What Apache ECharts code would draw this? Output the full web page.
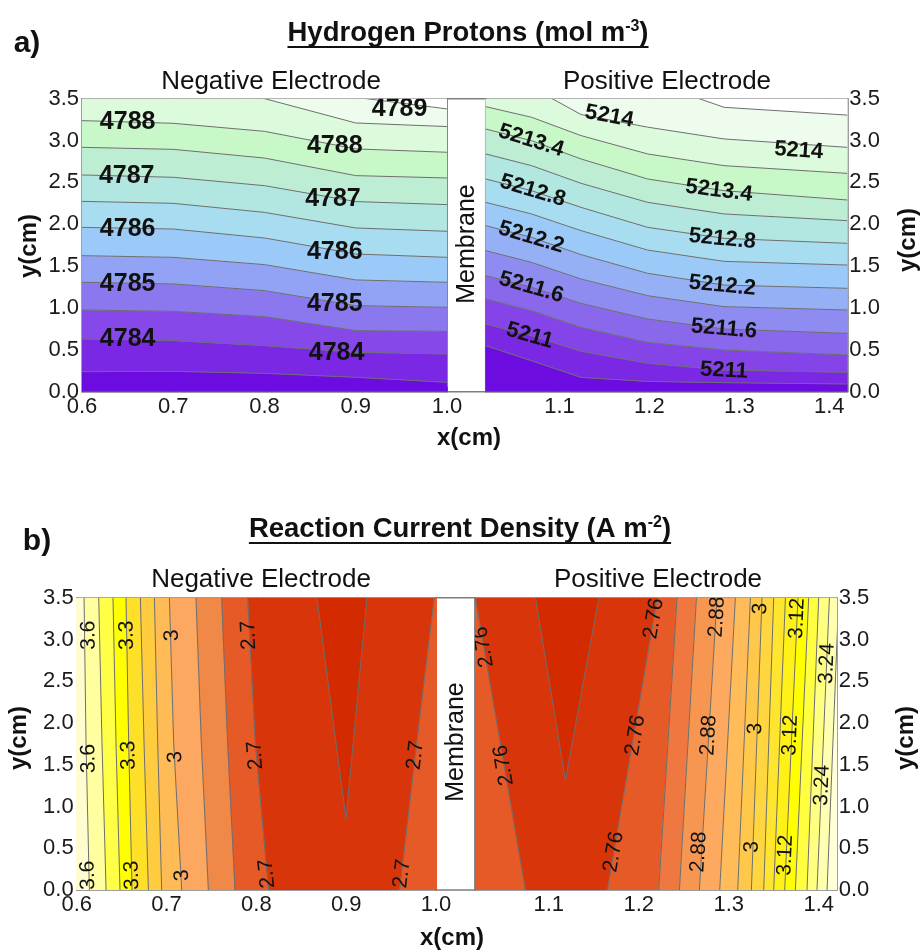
<!DOCTYPE html>
<html>
<head>
<meta charset="utf-8">
<script src="https://cdn.jsdelivr.net/npm/echarts@6.0.0/dist/echarts.min.js"></script>
<style>html,body{margin:0;padding:0;background:#fff;}#chart{width:921px;height:951px;}</style>
</head>
<body>
<div id="chart"></div>
<script>
// ================= DATA =================
// tick values
const yTicks = [0, 0.5, 1.0, 1.5, 2.0, 2.5, 3.0, 3.5];
const xTicksNeg = [0.6, 0.7, 0.8, 0.9, 1.0];
const xTicksPos = [1.1, 1.2, 1.3, 1.4];
const yRange = [0, 3.5];
const xRangeNeg = [0.6, 1.0];
const xRangePos = [1.018, 1.42];

// (a) Hydrogen protons, negative electrode: contour y at sample x
const negA_x = [0.6, 0.7, 0.8, 0.9, 1.0];
const negA_levels = [4783.5, 4784, 4784.5, 4785, 4785.5, 4786, 4786.5, 4787, 4787.5, 4788, 4788.5, 4789];
const negA_y = [
  [0.239, 0.243, 0.219, 0.172, 0.112],
  [0.629, 0.610, 0.550, 0.470, 0.450],
  [0.976, 0.960, 0.897, 0.730, 0.721],
  [1.307, 1.287, 1.207, 1.028, 1.008],
  [1.625, 1.605, 1.518, 1.335, 1.307],
  [1.963, 1.943, 1.836, 1.645, 1.605],
  [2.274, 2.250, 2.142, 1.956, 1.916],
  [2.589, 2.561, 2.461, 2.271, 2.235],
  [2.919, 2.895, 2.791, 2.581, 2.553],
  [3.238, 3.206, 3.110, 2.900, 2.860],
  [3.577, 3.557, 3.501, 3.210, 3.167],
  [3.876, 3.855, 3.796, 3.517, 3.378]
];
const negA_labels = [
  [0.650, 3.218, '4788'], [0.877, 2.935, '4788'],
  [0.649, 2.581, '4787'], [0.875, 2.300, '4787'],
  [0.650, 1.944, '4786'], [0.877, 1.665, '4786'],
  [0.650, 1.286, '4785'], [0.877, 1.048, '4785'],
  [0.650, 0.629, '4784'], [0.879, 0.465, '4784'],
  [0.948, 3.377, '4789']
];

// (a) Hydrogen protons, positive electrode
const posA_x = [1.018, 1.069, 1.124, 1.198, 1.283, 1.42];
const posA_levels = [5210.7, 5211, 5211.3, 5211.6, 5211.9, 5212.2, 5212.5, 5212.8, 5213.1, 5213.4, 5213.7, 5214, 5214.3];
const posA_y = [
  [0.550, 0.370, 0.171, 0.123, 0.108, 0.092],
  [0.808, 0.669, 0.482, 0.339, 0.259, 0.231],
  [1.107, 0.968, 0.768, 0.589, 0.498, 0.438],
  [1.386, 1.247, 1.055, 0.868, 0.749, 0.697],
  [1.685, 1.545, 1.346, 1.147, 1.016, 0.976],
  [1.983, 1.844, 1.637, 1.414, 1.274, 1.235],
  [2.262, 2.123, 1.924, 1.692, 1.557, 1.513],
  [2.541, 2.401, 2.202, 1.963, 1.832, 1.772],
  [2.840, 2.700, 2.489, 2.262, 2.123, 2.043],
  [3.138, 2.999, 2.780, 2.541, 2.401, 2.290],
  [3.405, 3.278, 3.059, 2.840, 2.700, 2.608],
  [4.150, 3.636, 3.311, 3.160, 3.019, 2.919],
  [4.550, 4.350, 4.030, 3.716, 3.397, 3.304]
];
const posA_labels = [
  [1.0686, 2.999, '5213.4'], [1.0704, 2.401, '5212.8'], [1.0686, 1.844, '5212.2'],
  [1.0686, 1.247, '5211.6'], [1.0668, 0.669, '5211'], [1.1554, 3.29, '5214'],
  [1.366, 2.879, '5214'], [1.2773, 2.401, '5213.4'], [1.281, 1.824, '5212.8'],
  [1.281, 1.266, '5212.2'], [1.2829, 0.749, '5211.6'], [1.2829, 0.251, '5211']
];

// (b) Reaction current density, negative electrode: contour x at sample y
const negB_y = [3.5, 1.75, 0];
const negB_levels = [3.6, 3.5, 3.4, 3.3, 3.2, 3.1, 3.0, 2.9, 2.8, 2.7, 2.7];
const negB_x = [
  [0.6082, 0.6104, 0.6141],
  [0.6245, 0.6282, 0.6327],
  [0.6404, 0.6438, 0.6482],
  [0.6549, 0.6579, 0.6616],
  [0.6709, 0.6750, 0.6798],
  [0.6865, 0.6902, 0.6946],
  [0.7032, 0.7080, 0.7169],
  [0.7328, 0.7388, 0.7466],
  [0.7614, 0.7681, 0.7763],
  [0.7904, 0.7989, 0.8137],
  [0.9981, 0.9785, 0.9596]
];
const negB_coreLevel = 2.6;
const negB_core_x = [0.8675, 0.8998, 0.9232];
const negB_core_y = [3.5, 0.854, 3.5];
const negB_labels = [
  [0.6134, 3.050, '3.6'], [0.6134, 1.573, '3.6'], [0.6126, 0.176, '3.6'],
  [0.6560, 3.050, '3.3'], [0.6579, 1.613, '3.3'], [0.6616, 0.176, '3.3'],
  [0.7061, 3.050, '3'], [0.7098, 1.593, '3'], [0.7173, 0.176, '3'],
  [0.7916, 3.050, '2.7'], [0.7989, 1.613, '2.7'], [0.8119, 0.196, '2.7'],
  [0.9772, 1.613, '2.7'], [0.9622, 0.196, '2.7']
];

// (b) Reaction current density, positive electrode
const posB_y = [3.5, 0];
const posB_levels = [2.76, 2.76, 2.80, 2.84, 2.88, 2.92, 2.96, 3.00, 3.04, 3.08, 3.12, 3.16, 3.20, 3.24, 3.28];
const posB_x = [
  [1.0185, 1.0741],
  [1.2207, 1.1652],
  [1.2426, 1.2222],
  [1.2641, 1.2452],
  [1.2870, 1.2674],
  [1.3074, 1.2900],
  [1.3241, 1.3100],
  [1.3370, 1.3252],
  [1.3500, 1.3389],
  [1.3630, 1.3500],
  [1.3770, 1.3622],
  [1.3889, 1.3741],
  [1.4000, 1.3870],
  [1.4119, 1.3981],
  [1.4222, 1.4093]
];
const posB_coreLevel = 2.72;
const posB_core_x = [1.0852, 1.1185, 1.1556];
const posB_core_y = [3.5, 1.317, 3.5];
const posB_labels = [
  [1.0278, 2.910, '2.76'], [1.050, 1.493, '2.76'], [1.2167, 3.250, '2.76'],
  [1.1963, 1.852, '2.76'], [1.1722, 0.455, '2.76'],
  [1.287, 3.269, '2.88'], [1.2778, 1.852, '2.88'], [1.2667, 0.455, '2.88'],
  [1.3352, 3.369, '3'], [1.3296, 1.932, '3'], [1.3259, 0.515, '3'],
  [1.3759, 3.250, '3.12'], [1.3685, 1.852, '3.12'], [1.363, 0.415, '3.12'],
  [1.4093, 2.711, '3.24'], [1.4037, 1.253, '3.24']
];

const titleA = ['Hydrogen Protons (mol m', '-3', ')'];
const titleB = ['Reaction Current Density (A m', '-2', ')'];

// ================= STYLE / LAYOUT =================
const FF = '"Liberation Sans", Arial, Helvetica, sans-serif';
const LINE_COLOR = '#6e6e6e';
const FRAME = '#7f7f7f';
const grids = [
  {left: 82, top: 98.7, width: 365, height: 293},
  {left: 485.7, top: 98.7, width: 361.6, height: 293},
  {left: 76.7, top: 597.7, width: 359.3, height: 292.3},
  {left: 475, top: 597.7, width: 361.7, height: 292.3}
];
const colorsNegA = ['#6c0ce0','#7a28e4','#8648e8','#8c78ee','#92a2f5','#9ccaf8','#a8dcf0','#b2e6e0','#bdeed4','#c8f8c8','#dcfadc','#eefcee','#ffffff'];
const colorsPosA = ['#6c0ce0','#7a28e4','#8444e8','#8a68ec','#8e8cf0','#96b0f6','#9ccaf8','#a8dcf0','#b2e6e0','#bdeed4','#c8f8c8','#dcfadc','#eefcee','#ffffff'];
const colorsNegB = ['#fffdd0','#ffffa0','#ffff48','#ffff00','#ffe028','#ffcc40','#ffbb55','#fca860','#f08848','#e65a28','#d8360a','#e65a28'];
const colorsPosB = ['#e65a28','#d8360a','#e65a28','#ef7840','#f69650','#fdaa60','#ffbc58','#ffc84a','#ffd640','#ffe430','#fff018','#ffff00','#ffff40','#ffff80','#ffffb0','#ffffd8'];
const CORE_COLOR = '#d42a00';

function interp(s, v, t) {
  const n = s.length;
  let i = -1;
  for (let k = 0; k < n - 1; k++) {
    const lo = Math.min(s[k], s[k + 1]), hi = Math.max(s[k], s[k + 1]);
    if (t >= lo && t <= hi) { i = k; break; }
  }
  if (i < 0) i = Math.abs(t - s[0]) < Math.abs(t - s[n - 1]) ? 0 : n - 2;
  const f = (t - s[i]) / (s[i + 1] - s[i]);
  return v[i] + f * (v[i + 1] - v[i]);
}

function buildRender(cfg) {
  return function (params, api) {
    const h = cfg.orient === 'h';
    const s = cfg.s;
    const toPts = arr => s.map((t, i) => h ? [t, arr[i]] : [arr[i], t]);
    const lines = cfg.lines.map(toPts);
    const lowB = toPts(s.map(() => h ? yRange[0] - 1 : cfg.xr[0] - 1));
    const highB = toPts(s.map(() => h ? yRange[1] + 1 : cfg.xr[1] + 1));
    const bounds = [lowB].concat(lines, [highB]);
    const C = p => api.coord(p);
    const children = [];
    for (let j = 0; j < bounds.length - 1; j++) {
      const poly = bounds[j].concat(bounds[j + 1].slice().reverse()).map(C);
      children.push({type: 'polygon', shape: {points: poly},
        style: {fill: cfg.colors[j], stroke: cfg.colors[j], lineWidth: 0.6}});
    }
    let corePts = null;
    if (cfg.coreX) {
      corePts = cfg.coreX.map((x, i) => [x, cfg.coreY[i]]).map(C);
      children.push({type: 'polygon', shape: {points: corePts}, style: {fill: CORE_COLOR}});
    }
    lines.forEach(l => children.push({type: 'polyline', shape: {points: l.map(C)},
      style: {stroke: LINE_COLOR, lineWidth: 1, fill: null}}));
    if (corePts) children.push({type: 'polyline', shape: {points: corePts},
      style: {stroke: LINE_COLOR, lineWidth: 1, fill: null}});
    cfg.labels.forEach(lb => {
      const lx = lb[0], ly = lb[1], txt = lb[2];
      const p = C([lx, ly]);
      let rot = 0;
      if (cfg.rotate) {
        const lv = parseFloat(txt);
        let best = -1, bd = Infinity;
        cfg.levels.forEach((L, k) => {
          if (Math.abs(L - lv) < 1e-6) {
            const d = h ? Math.abs(interp(s, cfg.lines[k], lx) - ly) : Math.abs(interp(s, cfg.lines[k], ly) - lx);
            if (d < bd) { bd = d; best = k; }
          }
        });
        if (best >= 0) {
          let a, b;
          if (h) {
            const d = 0.02;
            a = C([lx - d, interp(s, cfg.lines[best], lx - d)]);
            b = C([lx + d, interp(s, cfg.lines[best], lx + d)]);
          } else {
            const d = 0.2;
            a = C([interp(s, cfg.lines[best], ly - d), ly - d]);
            b = C([interp(s, cfg.lines[best], ly + d), ly + d]);
          }
          rot = Math.atan2(-(b[1] - a[1]), b[0] - a[0]);
        }
      }
      children.push({type: 'text', x: p[0], y: p[1], rotation: rot,
        style: {text: txt, font: cfg.font, fill: '#111', align: 'center', verticalAlign: 'middle',
                textAlign: 'center', textVerticalAlign: 'middle'}});
    });
    return {type: 'group', children: children};
  };
}

const cfgs = [
  {orient: 'h', s: negA_x, lines: negA_y, levels: negA_levels, colors: colorsNegA, labels: negA_labels,
   font: 'bold 25px ' + FF, rotate: false, xr: xRangeNeg},
  {orient: 'h', s: posA_x, lines: posA_y, levels: posA_levels, colors: colorsPosA, labels: posA_labels,
   font: 'bold 22px ' + FF, rotate: true, xr: xRangePos},
  {orient: 'v', s: negB_y, lines: negB_x, levels: negB_levels, colors: colorsNegB, labels: negB_labels,
   font: '21px ' + FF, rotate: true, xr: xRangeNeg, coreX: negB_core_x, coreY: negB_core_y},
  {orient: 'v', s: posB_y, lines: posB_x, levels: posB_levels, colors: colorsPosB, labels: posB_labels,
   font: '21px ' + FF, rotate: true, xr: xRangePos, coreX: posB_core_x, coreY: posB_core_y}
];

const interior = (arr, r) => arr.filter(v => v > r[0] + 1e-9 && v < r[1] - 1e-9);
const fmt = v => Number(v).toFixed(1);
const axisLine = {show: true, onZero: false, lineStyle: {color: FRAME, width: 1.5}};
const tickStyle = {color: '#555', width: 1};
const labelStyle = {color: '#1a1a1a', fontSize: 22, fontFamily: FF, formatter: fmt};

const xAxes = [], yAxes = [], series = [];
grids.forEach((g, i) => {
  const isNeg = (i % 2 === 0);
  const xr = isNeg ? xRangeNeg : xRangePos;
  const xt = isNeg ? xTicksNeg : xTicksPos;
  xAxes.push({gridIndex: i, type: 'value', min: xr[0], max: xr[1], position: 'bottom',
    axisLine: axisLine, splitLine: {show: false},
    axisTick: {show: true, inside: true, length: 5, customValues: xt, lineStyle: tickStyle},
    axisLabel: Object.assign({show: true, customValues: xt, margin: 4}, labelStyle)});
  xAxes.push({gridIndex: i, type: 'value', min: xr[0], max: xr[1], position: 'top',
    axisLine: axisLine, splitLine: {show: false},
    axisTick: {show: true, inside: true, length: 5, customValues: interior(xt, xr), lineStyle: tickStyle},
    axisLabel: {show: false}});
  yAxes.push({gridIndex: i, type: 'value', min: yRange[0], max: yRange[1], position: 'left',
    axisLine: axisLine, splitLine: {show: false},
    axisTick: {show: true, inside: true, length: 5, customValues: interior(yTicks, yRange), lineStyle: tickStyle},
    axisLabel: Object.assign({show: isNeg, customValues: yTicks, margin: 3}, labelStyle)});
  yAxes.push({gridIndex: i, type: 'value', min: yRange[0], max: yRange[1], position: 'right',
    axisLine: axisLine, splitLine: {show: false},
    axisTick: {show: true, inside: true, length: 5, customValues: interior(yTicks, yRange), lineStyle: tickStyle},
    axisLabel: Object.assign({show: !isNeg, customValues: yTicks, margin: 2}, labelStyle)});
  series.push({type: 'custom', xAxisIndex: 2 * i, yAxisIndex: 2 * i, clip: true, silent: true,
    data: [[xr[0], yRange[0]]], renderItem: buildRender(cfgs[i]), animation: false});
});

// ---------- graphic decorations ----------
function textWidth(str, font) {
  const c = document.createElement('canvas').getContext('2d');
  c.font = font; return c.measureText(str).width;
}
const TSIZE = 27.5, SSIZE = 16;
const TITLE_FONT = 'bold ' + TSIZE + 'px ' + FF, SUP_FONT = 'bold ' + SSIZE + 'px ' + FF;
function titleEls(parts, cx, cy, uy) {
  const w = textWidth(parts[0], TITLE_FONT) + textWidth(parts[1], SUP_FONT) + textWidth(parts[2], TITLE_FONT);
  return [
    {type: 'text', x: cx, y: cy, style: {
      text: '{t|' + parts[0] + '}{s|' + parts[1] + '}{t|' + parts[2] + '}',
      align: 'center', verticalAlign: 'middle', textAlign: 'center', textVerticalAlign: 'middle',
      rich: {t: {fontSize: TSIZE, fontWeight: 'bold', fontFamily: FF, fill: '#111'},
             s: {fontSize: SSIZE, fontWeight: 'bold', fontFamily: FF, fill: '#111', verticalAlign: 'top'}}}},
    {type: 'line', shape: {x1: cx - w / 2, y1: uy, x2: cx + w / 2, y2: uy}, style: {stroke: '#111', lineWidth: 2}}
  ];
}
function txt(t, x, y, font, rot) {
  return {type: 'text', x: x, y: y, rotation: rot || 0,
    style: {text: t, font: font, fill: '#111', align: 'center', verticalAlign: 'middle',
            textAlign: 'center', textVerticalAlign: 'middle'}};
}
function membrane(gl, gr, cy) {
  const x0 = gl.left + gl.width, x1 = gr.left;
  return [
    {type: 'rect', shape: {x: x0, y: gl.top, width: x1 - x0, height: gl.height},
     style: {fill: '#fff', stroke: FRAME, lineWidth: 1.5}},
    txt('Membrane', (x0 + x1) / 2 + 1, cy, '25px ' + FF, Math.PI / 2)
  ];
}
const R = Math.PI / 2;
const SUB = '26px ' + FF;
const graphic = [].concat(
  titleEls(titleA, 468, 33, 47),
  titleEls(titleB, 460, 529, 543),
  [txt('a)', 27, 44, 'bold 30px ' + FF), txt('b)', 37, 542, 'bold 30px ' + FF),
   txt('Negative Electrode', 271, 82, SUB), txt('Positive Electrode', 667, 82, SUB),
   txt('Negative Electrode', 261, 580, SUB), txt('Positive Electrode', 658, 580, SUB),
   txt('x(cm)', 469, 438, 'bold 24px ' + FF), txt('x(cm)', 452, 938, 'bold 24px ' + FF),
   txt('y(cm)', 29, 246, 'bold 24px ' + FF, R), txt('y(cm)', 908, 240, 'bold 24px ' + FF, R),
   txt('y(cm)', 19, 738, 'bold 24px ' + FF, R), txt('y(cm)', 906, 738, 'bold 24px ' + FF, R)],
  membrane(grids[0], grids[1], 244),
  membrane(grids[2], grids[3], 742)
);

const chart = echarts.init(document.getElementById('chart'), null, {renderer: 'canvas', width: 921, height: 951});
chart.setOption({
  animation: false,
  backgroundColor: '#ffffff',
  grid: grids.map(g => Object.assign({containLabel: false, outerBoundsMode: 'none'}, g)),
  xAxis: xAxes,
  yAxis: yAxes,
  series: series,
  graphic: graphic
});
</script>
</body>
</html>
